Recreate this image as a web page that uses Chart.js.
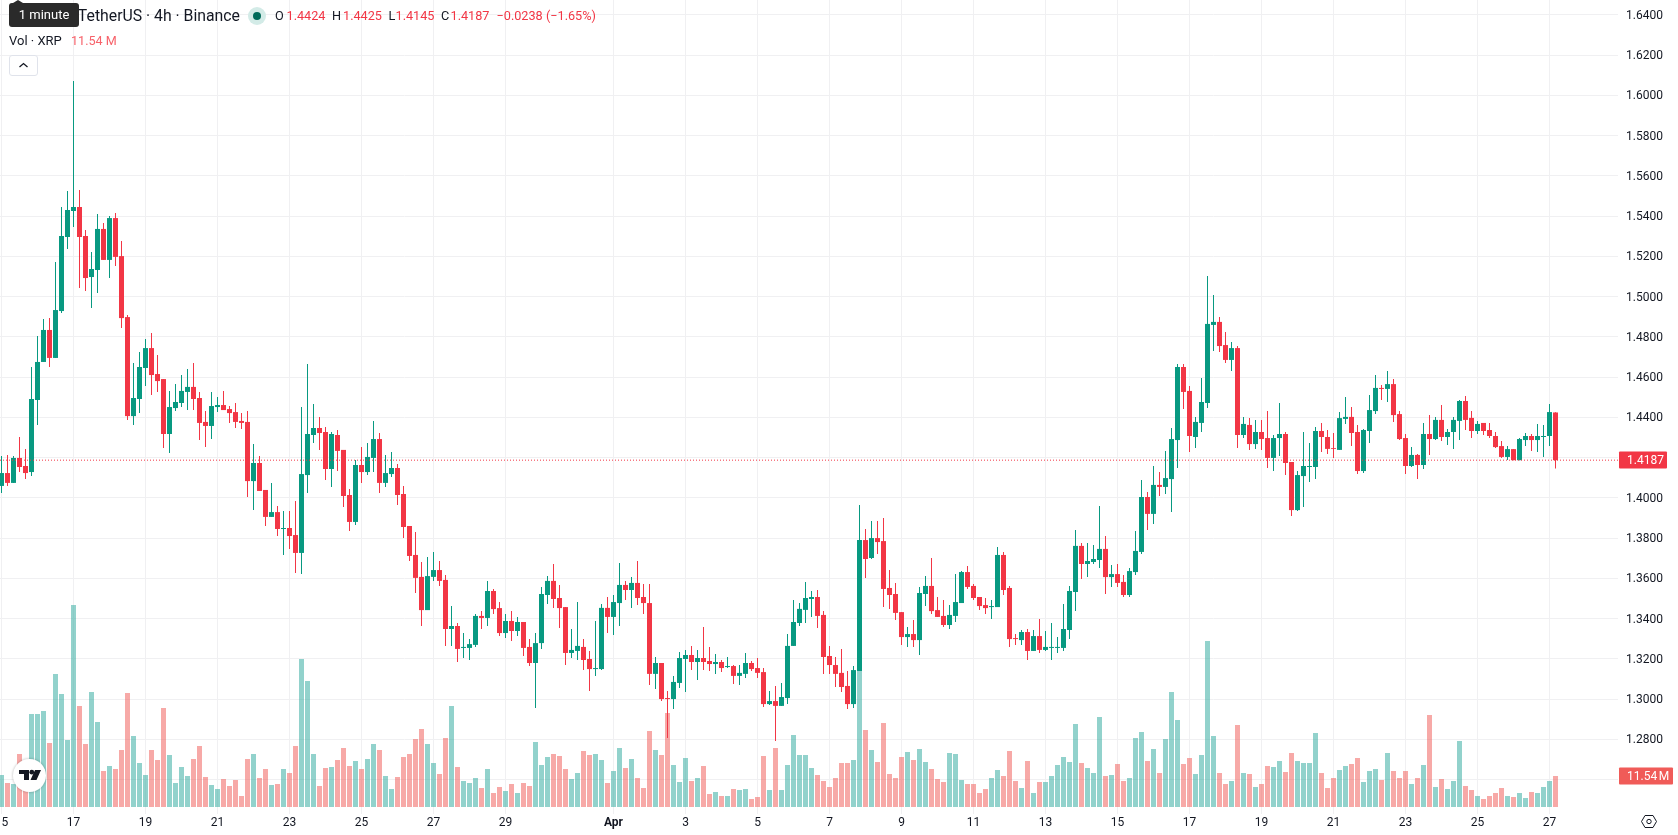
<!DOCTYPE html>
<html>
<head>
<meta charset="utf-8">
<title>XRP / TetherUS 4h</title>
<script src="https://cdn.jsdelivr.net/npm/chart.js@4.4.0/dist/chart.umd.js"></script>
<style>
  html, body { margin: 0; padding: 0; background: #fff; overflow: hidden; }
  body { width: 1678px; height: 835px; position: relative; font-family: Roboto, sans-serif; color: #131722; }
  canvas { display: block; position: absolute; left: 0; top: 0; }
  .abs { position: absolute; white-space: nowrap; }
  #title { right: 1438px; top: 6px; font-size: 15.8px; line-height: 20px; }
  #hint { left: 9px; top: 3px; width: 70px; height: 24px; background: #2a2a2a; color: #fff; border-radius: 3px; font-size: 13px; line-height: 24px; text-align: center; }
  #hint:before { content: ""; position: absolute; left: 4px; top: -3px; border: 5px solid transparent; border-top: 0; border-bottom: 3px solid #2a2a2a; }
  #dot { left: 248px; top: 7px; width: 18px; height: 18px; border-radius: 50%; background: #d3ebe7; }
  #dot:after { content: ""; position: absolute; left: 5px; top: 5px; width: 8px; height: 8px; border-radius: 50%; background: #006b5a; }
  .ohlc { top: 6px; font-size: 12.7px; line-height: 20px; color: #f23645; }
  .key { color: #131722; }
  #volname { left: 9px; top: 31px; font-size: 13px; line-height: 20px; }
  #volval { left: 71px; top: 31px; font-size: 12.6px; line-height: 20px; color: #f7626a; }
  #collapse { left: 9px; top: 55px; width: 27px; height: 19px; border: 1px solid #e0e3eb; border-radius: 3px; background: #fff; }
  #logo { left: 13px; top: 759px; width: 33px; height: 33px; border-radius: 50%; background: #fff; box-shadow: 0 0 2px 1px rgba(0,0,0,.14); }
  #gear { left: 1640px; top: 813px; }
</style>
</head>
<body>
<canvas id="chart" width="1678" height="835"></canvas>

<div id="title" class="abs">XRP / TetherUS · 4h · Binance</div>
<div id="hint" class="abs">1 minute</div>
<div id="dot" class="abs"></div>
<div class="abs ohlc key" style="left:275px">O</div>
<div class="abs ohlc" style="left:286.5px">1.4424</div>
<div class="abs ohlc key" style="left:332px">H</div>
<div class="abs ohlc" style="left:343px">1.4425</div>
<div class="abs ohlc key" style="left:388.5px">L</div>
<div class="abs ohlc" style="left:395.5px">1.4145</div>
<div class="abs ohlc key" style="left:441px">C</div>
<div class="abs ohlc" style="left:450.5px">1.4187</div>
<div class="abs ohlc" style="left:496.5px">−0.0238 (−1.65%)</div>
<div id="volname" class="abs">Vol · XRP</div>
<div id="volval" class="abs">11.54 M</div>
<div id="collapse" class="abs">
  <svg width="27" height="19" viewBox="0 0 27 19"><path d="M9.5 11 L13.5 7.5 L17.5 11" fill="none" stroke="#131722" stroke-width="1.3"/></svg>
</div>
<div id="logo" class="abs">
  <svg width="33" height="33" viewBox="0 0 33 33"><path d="M6 11h10v10h-5v-6H6z M17.5 21l4.5-10h6l-4.5 10z" fill="#131722"/><circle cx="18.8" cy="13.2" r="2.4" fill="#131722"/></svg>
</div>
<div id="gear" class="abs">
  <svg width="18" height="17" viewBox="0 0 18 17"><path d="M1.5 8.5 L5 2.5 H13 L16.5 8.5 L13 14.5 H5 Z" fill="none" stroke="#131722" stroke-width="1"/><circle cx="9" cy="8.5" r="2.2" fill="none" stroke="#131722" stroke-width="1"/></svg>
</div>

<script>
// 4h candles, oldest first
const opens = [
  1.4059,1.4123,1.4074,1.4198,1.4158,1.4128,1.4486,1.4675,1.4834,1.4695,
  1.4928,1.5296,1.5425,1.5445,1.5301,1.5097,1.5132,1.5336,1.5182,1.5390,
  1.5201,1.4898,1.4406,1.4491,1.4645,1.4744,1.4615,1.4590,1.4317,1.4446,
  1.4471,1.4526,1.4551,1.4496,1.4377,1.4357,1.4451,1.4461,1.4441,1.4426,
  1.4382,1.4377,1.4083,1.4173,1.4039,1.3905,1.3929,1.3845,1.3850,1.3815,
  1.3726,1.4113,1.4312,1.4347,1.4327,1.4143,1.4312,1.4238,1.4014,1.3880,
  1.4163,1.4128,1.4198,1.4292,1.4074,1.4118,1.4148,1.4019,1.3860,1.3716,
  1.3607,1.3442,1.3607,1.3641,1.3592,1.3348,1.3363,1.3254,1.3254,1.3269,
  1.3413,1.3403,1.3537,1.3452,1.3328,1.3388,1.3338,1.3383,1.3259,1.3179,
  1.3278,1.3517,1.3587,1.3502,1.3457,1.3229,1.3239,1.3259,1.3199,1.3149,
  1.3149,1.3453,1.3408,1.3477,1.3567,1.3542,1.3577,1.3507,1.3477,1.3125,
  1.3179,1.3005,1.3000,1.3080,1.3199,1.3219,1.3184,1.3204,1.3189,1.3174,
  1.3184,1.3159,1.3164,1.3115,1.3125,1.3179,1.3154,1.3134,1.2975,1.2990,
  1.2966,1.3005,1.3264,1.3378,1.3443,1.3497,1.3507,1.3418,1.3214,1.3169,
  1.3130,1.3065,1.2975,1.3139,1.3790,1.3701,1.3800,1.3785,1.3552,1.3522,
  1.3432,1.3308,1.3323,1.3293,1.3522,1.3562,1.3442,1.3413,1.3368,1.3413,
  1.3477,1.3631,1.3562,1.3507,1.3467,1.3457,1.3457,1.3716,1.3552,1.3303,
  1.3293,1.3333,1.3239,1.3313,1.3244,1.3254,1.3254,1.3254,1.3343,1.3532,
  1.3761,1.3671,1.3681,1.3691,1.3746,1.3606,1.3621,1.3582,1.3517,1.3631,
  1.3731,1.4004,1.3920,1.4064,1.4054,1.4093,1.4287,1.4650,1.4531,1.4302,
  1.4372,1.4471,1.4859,1.4874,1.4759,1.4685,1.4744,1.4312,1.4362,1.4267,
  1.4327,1.4297,1.4198,1.4297,1.4317,1.4178,1.3939,1.4108,1.4153,1.4153,
  1.4332,1.4302,1.4247,1.4238,1.4392,1.4402,1.4327,1.4133,1.4332,1.4431,
  1.4546,1.4541,1.4565,1.4416,1.4297,1.4158,1.4213,1.4163,1.4317,1.4292,
  1.4387,1.4302,1.4327,1.4382,1.4481,1.4397,1.4332,1.4372,1.4337,1.4307,
  1.4257,1.4203,1.4242,1.4187,1.4287,1.4307,1.4287,1.4302,1.4307,1.4424
];
const closes = [
  1.4123,1.4074,1.4198,1.4153,1.4123,1.4491,1.4675,1.4834,1.4695,1.4933,
  1.5301,1.5430,1.5445,1.5296,1.5092,1.5137,1.5336,1.5182,1.5390,1.5197,
  1.4893,1.4406,1.4496,1.4650,1.4744,1.4610,1.4580,1.4317,1.4451,1.4476,
  1.4531,1.4551,1.4491,1.4372,1.4357,1.4456,1.4461,1.4436,1.4421,1.4377,
  1.4372,1.4083,1.4173,1.4034,1.3905,1.3929,1.3845,1.3850,1.3810,1.3726,
  1.4118,1.4317,1.4347,1.4322,1.4143,1.4317,1.4233,1.4009,1.3880,1.4163,
  1.4128,1.4203,1.4292,1.4074,1.4123,1.4148,1.4014,1.3855,1.3711,1.3602,
  1.3442,1.3611,1.3641,1.3587,1.3348,1.3363,1.3249,1.3259,1.3273,1.3413,
  1.3403,1.3537,1.3447,1.3328,1.3388,1.3338,1.3383,1.3254,1.3179,1.3278,
  1.3522,1.3587,1.3497,1.3452,1.3229,1.3244,1.3264,1.3194,1.3149,1.3154,
  1.3453,1.3408,1.3482,1.3567,1.3542,1.3577,1.3502,1.3477,1.3125,1.3179,
  1.3000,1.3000,1.3085,1.3204,1.3219,1.3184,1.3204,1.3184,1.3174,1.3184,
  1.3154,1.3164,1.3115,1.3130,1.3179,1.3149,1.3130,1.2975,1.2990,1.2966,
  1.3010,1.3264,1.3383,1.3448,1.3502,1.3507,1.3413,1.3209,1.3169,1.3125,
  1.3060,1.2975,1.3144,1.3790,1.3696,1.3800,1.3780,1.3547,1.3517,1.3428,
  1.3308,1.3323,1.3293,1.3527,1.3562,1.3437,1.3408,1.3368,1.3418,1.3482,
  1.3631,1.3557,1.3502,1.3462,1.3452,1.3462,1.3716,1.3542,1.3298,1.3298,
  1.3333,1.3239,1.3313,1.3244,1.3259,1.3259,1.3259,1.3348,1.3537,1.3761,
  1.3671,1.3686,1.3696,1.3746,1.3606,1.3621,1.3577,1.3517,1.3636,1.3736,
  1.4004,1.3920,1.4064,1.4054,1.4098,1.4292,1.4650,1.4526,1.4307,1.4377,
  1.4476,1.4864,1.4874,1.4754,1.4685,1.4744,1.4312,1.4367,1.4267,1.4327,
  1.4292,1.4198,1.4297,1.4317,1.4173,1.3939,1.4113,1.4158,1.4158,1.4332,
  1.4302,1.4243,1.4243,1.4396,1.4402,1.4322,1.4133,1.4337,1.4436,1.4546,
  1.4541,1.4565,1.4411,1.4292,1.4158,1.4213,1.4163,1.4317,1.4292,1.4387,
  1.4302,1.4327,1.4387,1.4481,1.4387,1.4332,1.4367,1.4332,1.4307,1.4252,
  1.4203,1.4242,1.4187,1.4292,1.4307,1.4287,1.4307,1.4307,1.4426,1.4187
];
const highs = [
  1.4208,1.4213,1.4208,1.4302,1.4242,1.4650,1.4804,1.4888,1.4893,1.5172,
  1.5445,1.5524,1.6071,1.5529,1.5331,1.5221,1.5410,1.5365,1.5400,1.5415,
  1.5276,1.4908,1.4670,1.4724,1.4789,1.4819,1.4710,1.4590,1.4531,1.4565,
  1.4610,1.4640,1.4670,1.4526,1.4431,1.4526,1.4501,1.4531,1.4456,1.4471,
  1.4421,1.4431,1.4267,1.4208,1.4039,1.4074,1.3959,1.3934,1.3934,1.3984,
  1.4451,1.4665,1.4466,1.4402,1.4352,1.4327,1.4337,1.4238,1.4044,1.4188,
  1.4252,1.4272,1.4382,1.4322,1.4213,1.4228,1.4168,1.4059,1.3860,1.3830,
  1.3681,1.3706,1.3731,1.3686,1.3616,1.3462,1.3378,1.3328,1.3298,1.3423,
  1.3438,1.3587,1.3547,1.3482,1.3423,1.3438,1.3408,1.3383,1.3298,1.3328,
  1.3557,1.3611,1.3671,1.3567,1.3457,1.3348,1.3482,1.3298,1.3239,1.3388,
  1.3472,1.3507,1.3517,1.3676,1.3587,1.3607,1.3686,1.3572,1.3572,1.3209,
  1.3179,1.3040,1.3115,1.3234,1.3244,1.3264,1.3244,1.3358,1.3259,1.3224,
  1.3194,1.3209,1.3169,1.3169,1.3229,1.3189,1.3204,1.3154,1.3040,1.3065,
  1.3080,1.3323,1.3492,1.3477,1.3582,1.3537,1.3542,1.3438,1.3264,1.3209,
  1.3249,1.3139,1.3164,1.3964,1.3845,1.3885,1.3885,1.3900,1.3641,1.3577,
  1.3432,1.3358,1.3393,1.3557,1.3611,1.3701,1.3507,1.3492,1.3467,1.3621,
  1.3636,1.3661,1.3572,1.3507,1.3502,1.3492,1.3755,1.3731,1.3562,1.3323,
  1.3343,1.3348,1.3343,1.3398,1.3338,1.3378,1.3308,1.3472,1.3562,1.3840,
  1.3775,1.3775,1.3765,1.3959,1.3810,1.3666,1.3671,1.3616,1.3651,1.3835,
  1.4088,1.4029,1.4158,1.4128,1.4233,1.4347,1.4665,1.4665,1.4556,1.4402,
  1.4595,1.5102,1.5008,1.4898,1.4824,1.4774,1.4754,1.4402,1.4396,1.4387,
  1.4387,1.4431,1.4312,1.4471,1.4327,1.4178,1.4133,1.4327,1.4272,1.4352,
  1.4372,1.4337,1.4322,1.4426,1.4501,1.4451,1.4362,1.4342,1.4511,1.4610,
  1.4561,1.4630,1.4590,1.4431,1.4317,1.4252,1.4218,1.4372,1.4411,1.4401,
  1.4461,1.4342,1.4401,1.4486,1.4506,1.4431,1.4382,1.4372,1.4372,1.4327,
  1.4282,1.4257,1.4242,1.4297,1.4322,1.4317,1.4367,1.4362,1.4466,1.4425
];
const lows = [
  1.4024,1.4059,1.4074,1.4128,1.4093,1.4108,1.4362,1.4675,1.4650,1.4695,
  1.4918,1.5236,1.5346,1.5042,1.5028,1.4943,1.5018,1.5182,1.5092,1.5152,
  1.4844,1.4387,1.4362,1.4421,1.4555,1.4511,1.4526,1.4247,1.4223,1.4431,
  1.4451,1.4436,1.4436,1.4287,1.4252,1.4292,1.4426,1.4436,1.4372,1.4347,
  1.4342,1.4004,1.3939,1.4034,1.3860,1.3905,1.3810,1.3716,1.3746,1.3626,
  1.3621,1.4024,1.4272,1.4238,1.4088,1.4054,1.4133,1.3954,1.3835,1.3865,
  1.4074,1.4113,1.4128,1.4024,1.4054,1.4103,1.3964,1.3800,1.3686,1.3527,
  1.3363,1.3442,1.3587,1.3562,1.3264,1.3264,1.3184,1.3204,1.3194,1.3259,
  1.3348,1.3363,1.3423,1.3313,1.3303,1.3288,1.3313,1.3214,1.3164,1.2956,
  1.3249,1.3472,1.3452,1.3353,1.3169,1.3204,1.3194,1.3144,1.3040,1.3115,
  1.3144,1.3328,1.3318,1.3363,1.3492,1.3453,1.3467,1.3423,1.3070,1.3050,
  1.2990,1.2806,1.2951,1.3055,1.3035,1.3144,1.3095,1.3144,1.3139,1.3125,
  1.3134,1.3154,1.3075,1.3070,1.3105,1.3139,1.3105,1.2961,1.2970,1.2792,
  1.2966,1.2975,1.3264,1.3363,1.3378,1.3408,1.3353,1.3125,1.3125,1.3060,
  1.3035,1.2951,1.2956,1.3139,1.3602,1.3696,1.3721,1.3457,1.3447,1.3393,
  1.3269,1.3259,1.3259,1.3219,1.3462,1.3423,1.3408,1.3358,1.3348,1.3383,
  1.3477,1.3547,1.3492,1.3442,1.3423,1.3398,1.3457,1.3517,1.3259,1.3269,
  1.3269,1.3194,1.3239,1.3229,1.3239,1.3194,1.3229,1.3239,1.3298,1.3437,
  1.3597,1.3606,1.3671,1.3651,1.3522,1.3557,1.3557,1.3507,1.3507,1.3616,
  1.3721,1.3840,1.3870,1.4009,1.4019,1.3929,1.4148,1.4441,1.4228,1.4247,
  1.4327,1.4446,1.4729,1.4724,1.4670,1.4630,1.4247,1.4297,1.4238,1.4243,
  1.4238,1.4148,1.4133,1.4208,1.4113,1.3910,1.3934,1.3954,1.4079,1.4093,
  1.4228,1.4218,1.4198,1.4238,1.4367,1.4257,1.4118,1.4123,1.4272,1.4416,
  1.4486,1.4476,1.4377,1.4287,1.4118,1.4153,1.4093,1.4143,1.4213,1.4287,
  1.4282,1.4262,1.4242,1.4287,1.4337,1.4297,1.4317,1.4312,1.4297,1.4247,
  1.4198,1.4188,1.4187,1.4187,1.4257,1.4232,1.4228,1.4203,1.4257,1.4145
];
// volume in millions of XRP
const volumes = [
  11.91,8.94,8.56,19.73,12.5,34.62,34.62,35.74,23.83,49.51,
  42.07,24.94,75.2,37.60,23.45,42.81,31.64,13.40,15.26,14.15,
  21.22,42.44,26.43,16.38,11.91,21.22,17.50,36.86,19.36,8.94,
  14.89,11.54,17.87,22.71,11.17,8.19,6.70,10.42,7.82,10.05,
  4.10,17.87,19.73,10.80,14.15,8.19,8.56,14.15,12.66,22.71,
  55.10,46.91,19.73,7.82,14.52,14.89,17.50,21.96,15.26,17.13,
  14.15,17.87,23.45,21.22,11.54,6.70,11.17,18.61,19.73,25.32,
  29.04,23.45,16.38,12.29,25.69,37.60,14.89,9.68,8.94,10.80,
  7.07,14.15,5.21,7.45,5.96,8.56,5.21,8.94,7.82,24.20,
  15.64,18.61,19.73,18.99,14.15,10.42,12.66,20.85,19.36,19.73,
  17.50,8.94,13.40,21.96,14.52,17.87,10.80,7.07,28.29,21.22,
  19.36,34.99,15.64,9.31,18.24,9.68,10.80,15.26,4.84,5.58,
  4.10,4.10,6.70,6.33,6.70,2.98,3.72,18.99,6.33,21.96,
  6.33,15.64,26.80,19.36,19.36,14.52,11.91,9.68,7.45,10.80,
  16.38,16.38,17.50,50.63,28.67,21.22,16.75,31.27,12.29,10.80,
  18.61,20.48,17.50,21.59,16.75,14.15,10.42,9.31,20.10,19.73,
  10.05,8.56,8.56,5.21,6.70,10.80,13.77,11.54,20.85,9.68,
  7.07,17.13,5.21,9.31,9.31,11.54,15.64,18.61,16.75,30.90,
  16.38,14.52,12.66,33.51,11.54,11.91,16.01,9.68,10.80,25.69,
  27.92,17.13,21.59,12.66,25.32,42.81,32.39,16.01,18.24,12.29,
  19.36,61.80,26.43,12.66,8.56,9.68,30.53,12.66,12.29,7.45,
  8.56,15.26,14.89,17.13,13.03,20.10,17.13,16.38,16.38,27.55,
  12.66,7.07,10.80,13.77,15.26,16.01,18.24,9.31,13.40,14.15,
  10.05,20.10,13.40,10.80,13.40,8.56,10.80,15.64,34.25,7.45,
  10.42,6.70,9.68,24.57,7.82,6.33,4.10,2.98,4.10,5.21,
  7.07,4.10,3.72,5.21,3.35,5.58,5.21,7.45,9.68,11.54
];
// candle index of each day label on the time axis
const dayTicks = [0,12,24,36,48,60,72,84,102,114,126,138,150,162,174,186,198,210,222,234,246,258];
const dayLabels = ['15','17','19','21','23','25','27','29','Apr','3','5','7','9','11','13','15','17','19','21','23','25','27'];
const priceTicks = [1.64,1.62,1.60,1.58,1.56,1.54,1.52,1.50,1.48,1.46,1.44,1.42,1.40,1.38,1.36,1.34,1.32,1.30,1.28,1.26];
const priceLabels = ['1.6400','1.6200','1.6000','1.5800','1.5600','1.5400','1.5200','1.5000','1.4800','1.4600','1.4400','1.4200','1.4000','1.3800','1.3600','1.3400','1.3200','1.3000','1.2800',''];

const green = '#089981';
const red = '#f23645';
const volGreen = 'rgba(38,166,154,0.5)';
const volRed = 'rgba(239,83,80,0.5)';
const fontName = 'Roboto, sans-serif';

const isUp = closes.map((c, i) => c >= opens[i]);
const candleColors = isUp.map(up => up ? green : red);
const volumeColors = isUp.map(up => up ? volGreen : volRed);
const lastClose = closes[closes.length - 1];
const lastVolume = volumes[volumes.length - 1];

// axis windows: 6px per candle, price and volume share one pane
const xMin = -0.25;
const xMax = -0.25 + 1618 / 6;
const priceMin = 1.24288;
const priceMax = 1.64736;
const volMin = -2.606;
const volMax = 300.45;

// price tags sitting on the right axis
const lastValueTags = {
  id: 'lastValueTags',
  afterDraw(chart) {
    const ctx = chart.ctx;
    const drawTag = (y, w, color, text) => {
      ctx.save();
      ctx.fillStyle = color;
      ctx.beginPath();
      ctx.roundRect(1619, Math.round(y) - 8.5, w, 17, 1);
      ctx.fill();
      ctx.fillStyle = '#fff';
      ctx.font = '12px ' + fontName;
      ctx.textBaseline = 'middle';
      ctx.fillText(text, 1627, Math.round(y) + 1);
      ctx.restore();
    };
    drawTag(chart.scales.y.getPixelForValue(lastClose), 48, red, lastClose.toFixed(4));
    drawTag(chart.scales.volume.getPixelForValue(lastVolume), 54, '#f05b58', lastVolume.toFixed(2) + '\u202fM');
  }
};

const barDefaults = { grouped: false, inflateAmount: 0, borderWidth: 0 };

new Chart(document.getElementById('chart'), {
  type: 'bar',
  data: {
    datasets: [
      {
        type: 'line',
        order: 0,
        data: [{ x: xMin, y: lastClose }, { x: xMax, y: lastClose }],
        borderColor: red,
        borderWidth: 1,
        borderDash: [1, 2],
        pointRadius: 0
      },
      {
        ...barDefaults,
        order: 1,
        barThickness: 5,
        data: opens.map((o, i) => ({ x: i, y: [o, closes[i]] })),
        backgroundColor: candleColors
      },
      {
        ...barDefaults,
        order: 2,
        barThickness: 1,
        data: lows.map((l, i) => ({ x: i, y: [l, highs[i]] })),
        backgroundColor: candleColors
      },
      {
        ...barDefaults,
        order: 3,
        yAxisID: 'volume',
        barThickness: 5,
        data: volumes.map((v, i) => ({ x: i, y: v })),
        backgroundColor: volumeColors
      }
    ]
  },
  plugins: [lastValueTags],
  options: {
    responsive: false,
    animation: false,
    layout: { padding: 0 },
    plugins: { legend: { display: false }, tooltip: { enabled: false } },
    scales: {
      x: {
        type: 'linear',
        offset: false,
        min: xMin,
        max: xMax,
        afterBuildTicks(scale) { scale.ticks = dayTicks.map(v => ({ value: v })); },
        afterFit(scale) { scale.paddingLeft = 0; scale.paddingRight = 0; scale.height = 21; },
        grid: { offset: false, color: '#f0f0f2', drawTicks: false },
        border: { display: false },
        ticks: {
          autoSkip: false,
          maxRotation: 0,
          padding: 2,
          color: '#131722',
          font: ctx => ({ family: fontName, size: 12, weight: ctx.index === 8 ? 'bold' : 'normal' }),
          callback: (v, i) => dayLabels[i]
        }
      },
      y: {
        position: 'right',
        min: priceMin,
        max: priceMax,
        afterBuildTicks(scale) { scale.ticks = priceTicks.map(v => ({ value: v })); },
        afterFit(scale) { scale.width = 60; scale.paddingTop = 0; scale.paddingBottom = 0; },
        grid: { color: '#f0f0f2', drawTicks: false },
        border: { display: false },
        ticks: {
          padding: 8,
          color: '#131722',
          // the empty first line nudges the text 1px down onto its grid line
          font: { family: fontName, size: 12, lineHeight: '2px' },
          callback: (v, i) => ['', priceLabels[i]]
        }
      },
      volume: {
        display: false,
        min: volMin,
        max: volMax
      }
    }
  }
});
</script>
</body>
</html>
